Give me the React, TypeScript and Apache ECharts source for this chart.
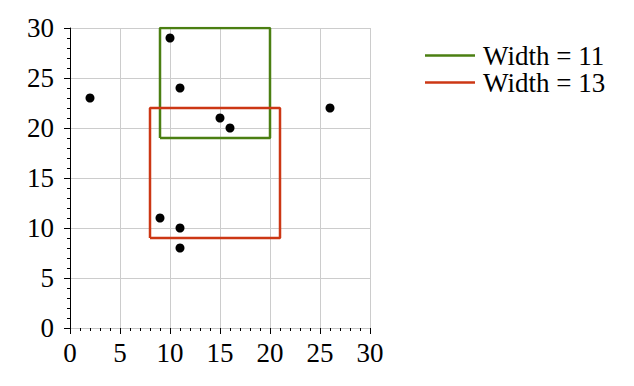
import React, { useEffect, useRef } from "react";
import * as echarts from "echarts";

const pointsX = [2, 10, 11, 15, 16, 26, 9, 11, 11];
const pointsY = [23, 29, 24, 21, 20, 22, 11, 10, 8];

const boxNames = ["Width = 11", "Width = 13"];
const boxX0 = [9, 8];
const boxY0 = [19, 9];
const boxWidths = [11, 13];
const boxColors = ["#4b7f12", "#cc3714"];

const FONT = "Liberation Serif";
const FS = 27;

export default function App() {
  const ref = useRef<HTMLDivElement>(null);
  useEffect(() => {
    const chart = echarts.init(ref.current!, null, { renderer: "svg" });
    const boxSeries = boxNames.map((name, i) => {
      const x0 = boxX0[i];
      const y0 = boxY0[i];
      const w = boxWidths[i];
      return {
        name,
        type: "line",
        symbol: "none",
        z: 3,
        lineStyle: { color: boxColors[i], width: 2.5 },
        itemStyle: { color: boxColors[i] },
        data: [
          [x0, y0],
          [x0 + w, y0],
          [x0 + w, y0 + w],
          [x0, y0 + w],
          [x0, y0],
        ],
      };
    });
    const axisCommon = {
      type: "value",
      min: 0,
      max: 30,
      interval: 5,
      axisLine: { show: true, lineStyle: { color: "#000", width: 1 } },
      axisTick: { show: true, inside: false, length: 6, lineStyle: { color: "#000" } },
      minorTick: { show: true, splitNumber: 5, length: 3, lineStyle: { color: "#000" } },
      splitLine: { show: true, lineStyle: { color: "#cccccc", width: 1 } },
      axisLabel: { color: "#000", fontFamily: FONT, fontSize: FS },
    };
    chart.setOption({
      animation: false,
      textStyle: { fontFamily: FONT },
      grid: { left: 70, top: 28, width: 300, height: 300 },
      xAxis: {
        ...axisCommon,
        axisLine: { show: true, lineStyle: { color: "#c8c8c8", width: 1 } },
        axisLabel: { ...axisCommon.axisLabel, margin: 11 },
      },
      yAxis: { ...axisCommon, axisLabel: { ...axisCommon.axisLabel, margin: 16 } },
      legend: {
        left: 420,
        top: 37,
        orient: "vertical",
        icon: "rect",
        itemWidth: 50,
        itemHeight: 2.5,
        itemGap: 0,
        data: boxNames,
        textStyle: { fontFamily: FONT, fontSize: FS, color: "#000", padding: [0, 0, 0, 3] },
      },
      series: [
        ...boxSeries,
        {
          type: "scatter",
          symbolSize: 9,
          z: 4,
          itemStyle: { color: "#000", opacity: 1 },
          data: pointsX.map((x, i) => [x, pointsY[i]]),
        },
      ],
    });
    return () => chart.dispose();
  }, []);
  return <div ref={ref} style={{ width: 634, height: 386, margin: -8 }} />;
}
